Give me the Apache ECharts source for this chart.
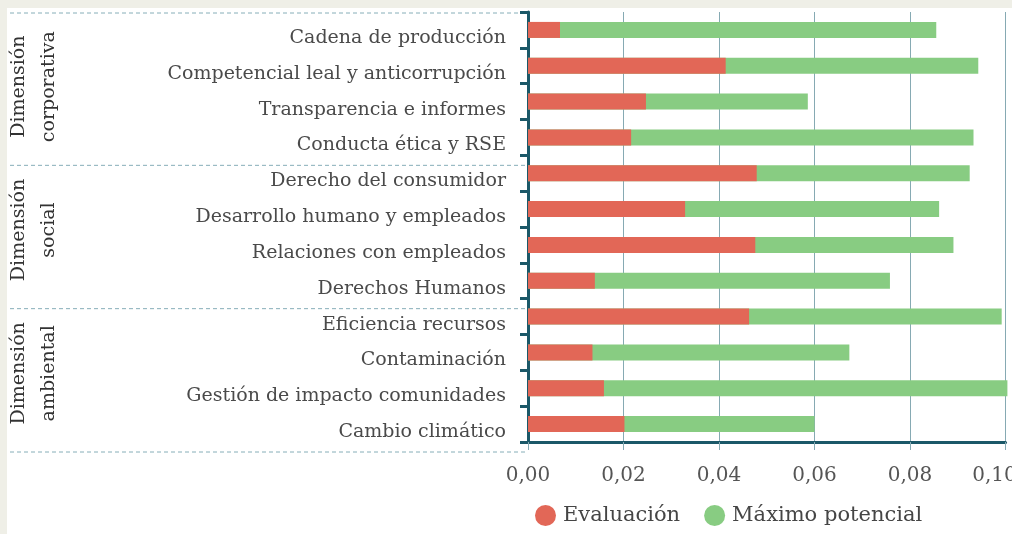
<!DOCTYPE html>
<html>
<head>
<meta charset="utf-8">
<script src="https://cdn.jsdelivr.net/npm/echarts@6/dist/echarts.min.js"></script>
<style>html,body{margin:0;padding:0;background:#fff}#c{width:1012px;height:534px}</style>
</head>
<body>
<div id="c"></div>
<script>
var categories = [
  'Cadena de producción',
  'Competencial leal y anticorrupción',
  'Transparencia e informes',
  'Conducta ética y RSE',
  'Derecho del consumidor',
  'Desarrollo humano y empleados',
  'Relaciones con empleados',
  'Derechos Humanos',
  'Eficiencia recursos',
  'Contaminación',
  'Gestión de impacto comunidades',
  'Cambio climático'
];
var evaluacion = [0.0067, 0.0414, 0.0247, 0.0216, 0.0479, 0.0329, 0.0476, 0.0140, 0.0463, 0.0135, 0.0159, 0.0202];
var maximoPotencial = [0.0855, 0.0943, 0.0586, 0.0933, 0.0925, 0.0861, 0.0891, 0.0758, 0.0992, 0.0673, 0.1004, 0.0600];
var groups = [
  {name: 'Dimensión\ncorporativa', from: 0, to: 3},
  {name: 'Dimensión\nsocial', from: 4, to: 7},
  {name: 'Dimensión\nambiental', from: 8, to: 11}
];
var xTicks = {min: 0, max: 0.1, interval: 0.02};

var FONT = 'DejaVu Serif';
var AXIS = '#1b5868';
var chart = echarts.init(document.getElementById('c'));
var option = {
  backgroundColor: '#ffffff',
  animation: false,
  grid: {left: 528, right: 6.5, top: 12, bottom: 92, outerBoundsMode: 'none', containLabel: false},
  legend: {
    data: ['Evaluación', 'Máximo potencial'],
    left: 530, bottom: 3,
    icon: 'circle', itemWidth: 21, itemHeight: 21, itemGap: 24,
    textStyle: {fontFamily: FONT, fontSize: 21, color: '#454545', padding: [0, 0, 0, 2]}
  },
  xAxis: {
    type: 'value', min: xTicks.min, max: xTicks.max, interval: xTicks.interval,
    axisLine: {show: true, lineStyle: {color: AXIS, width: 3}},
    axisTick: {show: true, length: 8, lineStyle: {color: '#86aab3', width: 1}},
    splitLine: {show: true, lineStyle: {color: '#86aab3', width: 1}},
    axisLabel: {
      margin: 24, fontFamily: FONT, fontSize: 20, color: '#555', verticalAlign: 'top', lineHeight: 20,
      formatter: function (v) {
        var s = v.toFixed(2).replace('.', ',');
        return v >= xTicks.max - 1e-9 ? '{m|' + s + '}' : s;
      },
      rich: {m: {fontFamily: FONT, fontSize: 20, color: '#555', lineHeight: 20, padding: [0, 22, 0, 0]}}
    }
  },
  yAxis: {
    type: 'category', data: categories, inverse: true,
    axisLine: {show: true, lineStyle: {color: AXIS, width: 3}},
    axisTick: {show: true, length: 8, lineStyle: {color: AXIS, width: 3}},
    axisLabel: {margin: 22, fontFamily: FONT, fontSize: 19, color: '#4a4a4a',
      verticalAlign: 'top', lineHeight: 18, padding: [-1, 0, 0, 0]}
  },
  series: [
    {name: 'Máximo potencial', type: 'bar', data: maximoPotencial, barWidth: 16, barGap: '-100%',
     clip: false, itemStyle: {color: '#88cc82'}, z: 2},
    {name: 'Evaluación', type: 'bar', data: evaluacion, barWidth: 16,
     clip: false, itemStyle: {color: '#e26757'}, z: 3}
  ]
};
chart.setOption(option);

// decorations: frame strips, group separators and group labels
var g = [
  {type: 'rect', shape: {x: 0, y: 0, width: 1012, height: 8}, style: {fill: '#efefe7'}, silent: true},
  {type: 'rect', shape: {x: 0, y: 0, width: 7, height: 534}, style: {fill: '#efefe7'}, silent: true}
];
var bandH = chart.convertToPixel({yAxisIndex: 0}, categories[1]) - chart.convertToPixel({yAxisIndex: 0}, categories[0]);
var offset = 10;
groups.forEach(function (grp, i) {
  var yTop = chart.convertToPixel({yAxisIndex: 0}, categories[grp.from]) - bandH / 2;
  var yBot = chart.convertToPixel({yAxisIndex: 0}, categories[grp.to]) + bandH / 2;
  if (i === 0) {
    g.push({type: 'line', shape: {x1: 10, y1: yTop + 1, x2: 525, y2: yTop + 1},
      style: {stroke: '#86aeb8', lineWidth: 1, lineDash: [4, 3]}, silent: true});
  }
  g.push({type: 'line', shape: {x1: 10, y1: yBot + offset, x2: 525, y2: yBot + offset},
    style: {stroke: '#86aeb8', lineWidth: 1, lineDash: [4, 3]}, silent: true});
  var cy = (yTop + yBot) / 2 + 3;
  g.push({type: 'text', x: 34, y: cy, rotation: Math.PI / 2,
    style: {text: grp.name, fontFamily: FONT, fontSize: 19, fill: '#333', align: 'center', verticalAlign: 'middle', lineHeight: 30},
    silent: true});
});
chart.setOption({graphic: g});
</script>
</body>
</html>
